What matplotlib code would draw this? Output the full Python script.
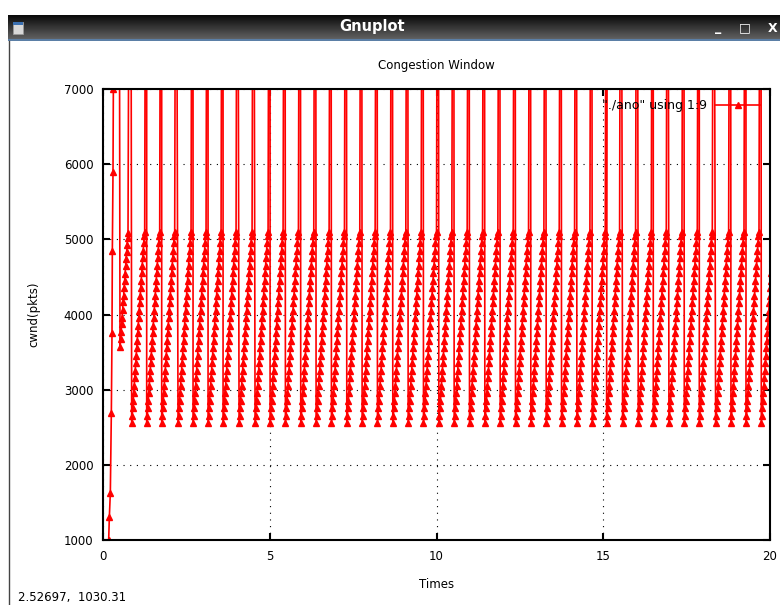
import numpy as np
import matplotlib.pyplot as plt
from matplotlib.patches import Rectangle

# slow start phase (time, cwnd)
ss_t = [0.17, 0.19, 0.22, 0.25, 0.27, 0.28, 0.30, 0.31, 0.33, 0.49]
ss_w = [1000, 1300, 1630, 2690, 3760, 4840, 5900, 7000, 9000, 9000]

# first congestion avoidance ramp after the slow start loss
ca0_t = [0.51, 0.53, 0.54, 0.56, 0.57, 0.59, 0.60, 0.62, 0.63, 0.65, 0.66, 0.68, 0.69, 0.71, 0.72, 0.74, 0.75]
ca0_w = [3570, 3670, 3770, 3870, 3960, 4060, 4160, 4250, 4350, 4450, 4540, 4640, 4740, 4830, 4930, 5020, 5090]
spike0_t = [0.78, 0.84]

# start time of each sawtooth cycle
cycle_start = [0.86, 1.31, 1.76, 2.25, 2.70, 3.15, 3.60, 4.08, 4.56, 5.01,
               5.47, 5.93, 6.39, 6.85, 7.31, 7.77, 8.23, 8.69, 9.15, 9.61,
               10.07, 10.53, 10.99, 11.45, 11.91, 12.37, 12.83, 13.29, 13.75, 14.21,
               14.67, 15.10, 15.58, 16.05, 16.50, 16.97, 17.43, 17.88, 18.37, 18.83,
               19.28, 19.74]
# cwnd levels inside one cycle (one per sample)
ramp_w = [2550, 2650, 2750, 2850, 2950, 3050, 3150, 3250, 3350, 3450,
          3550, 3650, 3750, 3850, 3950, 4050, 4150, 4250, 4350, 4450,
          4550, 4650, 4750, 4850, 4950, 5050, 5100]
ramp_dt = 0.015
spike_off = [0.41, 0.45]
spike_w = 9000

t = list(ss_t) + list(ca0_t) + spike0_t
w = list(ss_w) + list(ca0_w) + [spike_w, spike_w]
for t0 in cycle_start:
    for i, v in enumerate(ramp_w):
        t.append(t0 + i * ramp_dt)
        w.append(v)
    for off in spike_off:
        t.append(t0 + off)
        w.append(spike_w)

fig = plt.figure(figsize=(7.8, 6.05), dpi=100)
W, H = 780, 605

# window chrome
bar = fig.add_axes([8 / W, 1 - 41 / H, 772 / W, 26 / H])
grad = np.linspace(0, 1, 50).reshape(-1, 1)
bar.imshow(grad, aspect='auto', cmap='gray', vmin=-0.1, vmax=2.6, extent=[0, 1, 0, 1])
bar.axhline(0.02, color='#5b7fa6', lw=1.5)
bar.set_xlim(0, 1)
bar.set_ylim(0, 1)
bar.axis('off')
fig.text(372 / W, 1 - 27 / H, 'Gnuplot', color='white', fontsize=10.5, fontweight='bold',
         ha='center', va='center')
fig.patches.append(Rectangle((13 / W, 1 - 34 / H), 10 / W, 12 / H, transform=fig.transFigure,
                             facecolor='#d8d8d8', edgecolor='#9a9a9a', lw=0.6))
fig.patches.append(Rectangle((13 / W, 1 - 25 / H), 10 / W, 3 / H, transform=fig.transFigure,
                             facecolor='#3a6fb0', edgecolor='none'))
fig.text(718 / W, 1 - 28 / H, '_', color='white', fontsize=9, fontweight='bold', ha='center', va='center')
fig.text(745 / W, 1 - 28 / H, '\u25a1', color='white', fontsize=9, ha='center', va='center')
fig.text(773 / W, 1 - 28 / H, 'X', color='white', fontsize=9, fontweight='bold', ha='center', va='center')
fig.lines.append(plt.Line2D([8.5 / W, 8.5 / W], [0, 1 - 41 / H], transform=fig.transFigure,
                            color='#444444', lw=1))

ax = fig.add_axes([103 / W, 1 - 540 / H, 667 / W, 451 / H])
ax.plot(t, w, color='red', lw=1.2, marker='^', ms=4, mec='red', mfc='red',
        label='"./ano" using 1:9')
ax.set_xlim(0, 20)
ax.set_ylim(1000, 7000)
ax.set_xticks([0, 5, 10, 15, 20])
ax.set_yticks([1000, 2000, 3000, 4000, 5000, 6000, 7000])
ax.grid(True, color='black', linestyle=(0, (1, 5)), lw=0.8)
ax.set_axisbelow(True)
ax.tick_params(direction='in', top=True, right=True, length=5, width=1.5,
               labelsize=8.5, pad=7)
for s in ax.spines.values():
    s.set_linewidth(1.5)

ax.text(0.5, (540 - 66) / 451, 'Congestion Window', transform=ax.transAxes,
        ha='center', va='center', fontsize=8.5)
ax.set_xlabel('Times', fontsize=8.5)
ax.xaxis.set_label_coords(0.5, (540 - 578) / 451)
ax.set_ylabel('cwnd(pkts)', fontsize=8.5)
ax.yaxis.set_label_coords((40 - 103) / 667, 0.5)

ax.legend(loc='upper right', frameon=False, markerfirst=False, numpoints=1,
          handlelength=3.6, fontsize=9, borderaxespad=0.4, handletextpad=0.6)

fig.text(18 / W, 1 - 598 / H, '2.52697,  1030.31', fontsize=8.5, ha='left', va='center')

fig.savefig('out.png', dpi=100)
